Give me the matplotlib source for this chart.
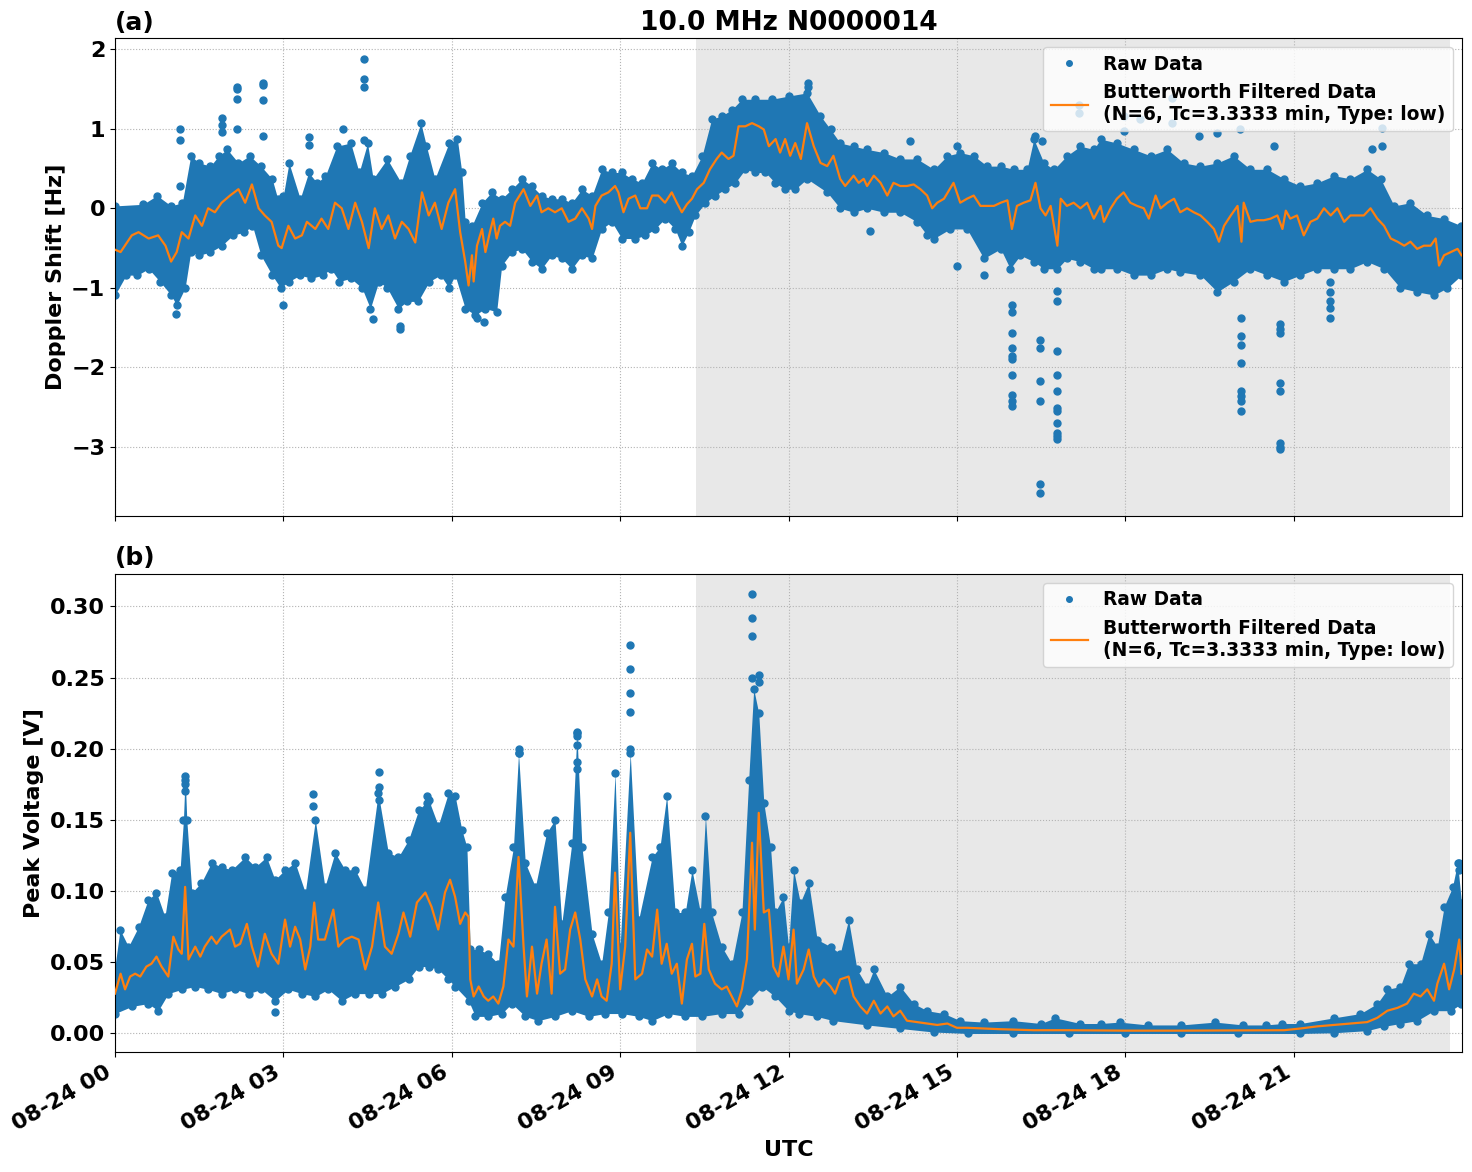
import numpy as np
import pandas as pd
import matplotlib
matplotlib.use('Agg')
import matplotlib.pyplot as plt
import matplotlib.dates as mdates

plt.rcParams['font.weight'] = 'bold'
plt.rcParams['axes.labelweight'] = 'bold'
plt.rcParams['axes.titleweight'] = 'bold'

DAY = pd.Timestamp('2024-08-24')

# ---------------- panel (a): doppler shift [Hz] ----------------
# filtered curve (hour of day, value)
dop_filt_h = [0.0, 0.1, 0.3, 0.42, 0.6, 0.77, 0.9, 1.0, 1.1, 1.19, 1.31, 1.43, 1.55, 1.66, 1.78, 1.9, 2.05, 2.2, 2.32, 2.44,
              2.56, 2.67, 2.79, 2.91, 2.97, 3.09, 3.21, 3.33, 3.42, 3.57, 3.68, 3.8, 3.92, 4.04, 4.16, 4.28, 4.4, 4.52, 4.63, 4.75,
              4.87, 4.99, 5.11, 5.23, 5.35, 5.47, 5.59, 5.7, 5.82, 5.94, 6.06, 6.15, 6.24, 6.3, 6.36, 6.39, 6.45, 6.54, 6.6, 6.68,
              6.74, 6.8, 6.86, 6.95, 7.04, 7.13, 7.28, 7.4, 7.52, 7.6, 7.72, 7.84, 7.96, 8.08, 8.2, 8.32, 8.44, 8.5, 8.56, 8.67,
              8.79, 8.91, 8.97, 9.06, 9.15, 9.27, 9.36, 9.48, 9.57, 9.68, 9.8, 9.92, 10.01, 10.1, 10.19, 10.28, 10.37, 10.49, 10.6, 10.72,
              10.81, 10.93, 11.02, 11.11, 11.23, 11.35, 11.47, 11.56, 11.65, 11.77, 11.85, 11.94, 12.03, 12.12, 12.22, 12.33, 12.45, 12.57, 12.69, 12.8,
              12.92, 13.01, 13.16, 13.25, 13.34, 13.4, 13.52, 13.64, 13.76, 13.87, 13.99, 14.11, 14.23, 14.35, 14.47, 14.56, 14.65, 14.77, 14.94, 15.06,
              15.18, 15.3, 15.42, 15.54, 15.66, 15.78, 15.9, 15.98, 16.07, 16.19, 16.31, 16.4, 16.49, 16.58, 16.67, 16.79, 16.85, 16.96, 17.08, 17.2,
              17.32, 17.44, 17.56, 17.62, 17.74, 17.85, 17.97, 18.09, 18.21, 18.33, 18.42, 18.54, 18.63, 18.75, 18.87, 18.98, 19.1, 19.22, 19.34, 19.46,
              19.58, 19.67, 19.76, 19.88, 20.0, 20.07, 20.11, 20.23, 20.35, 20.47, 20.59, 20.71, 20.8, 20.86, 20.94, 21.06, 21.18, 21.3, 21.42, 21.54,
              21.66, 21.78, 21.9, 22.01, 22.13, 22.25, 22.37, 22.49, 22.61, 22.73, 22.85, 22.97, 23.08, 23.2, 23.32, 23.44, 23.53, 23.59, 23.68, 23.8,
              23.92, 23.99]
dop_filt = [-0.52, -0.55, -0.34, -0.30, -0.38, -0.34, -0.47, -0.67, -0.55, -0.30, -0.38, -0.09, -0.22, 0.0, -0.05, 0.07, 0.16, 0.24, 0.07, 0.30,
            0.0, -0.09, -0.17, -0.47, -0.50, -0.22, -0.38, -0.34, -0.17, -0.26, -0.13, -0.26, 0.07, 0.0, -0.26, 0.07, -0.17, -0.50, 0.0, -0.26,
            -0.09, -0.38, -0.17, -0.26, -0.43, 0.20, -0.09, 0.07, -0.26, 0.07, 0.24, -0.30, -0.67, -0.97, -0.59, -0.92, -0.47, -0.26, -0.55, -0.30,
            -0.13, -0.38, -0.22, -0.17, -0.22, 0.07, 0.24, 0.03, 0.16, -0.05, 0.0, -0.05, 0.0, -0.17, -0.13, 0.0, -0.13, -0.26, 0.03, 0.16,
            0.20, 0.28, 0.20, -0.05, 0.12, 0.16, 0.0, 0.0, 0.16, 0.16, 0.07, 0.20, 0.07, -0.05, 0.05, 0.12, 0.24, 0.32, 0.49, 0.62,
            0.70, 0.62, 0.66, 1.03, 1.03, 1.07, 1.03, 0.99, 0.78, 0.87, 0.70, 0.87, 0.66, 0.82, 0.62, 1.07, 0.78, 0.57, 0.53, 0.66,
            0.37, 0.28, 0.41, 0.32, 0.37, 0.28, 0.41, 0.32, 0.16, 0.32, 0.28, 0.28, 0.30, 0.24, 0.16, 0.0, 0.07, 0.12, 0.32, 0.07,
            0.12, 0.16, 0.03, 0.03, 0.03, 0.07, 0.10, -0.26, 0.03, 0.07, 0.10, 0.32, 0.0, -0.09, 0.03, -0.47, 0.12, 0.03, 0.07, 0.0,
            0.07, -0.13, 0.03, -0.17, 0.0, 0.12, 0.20, 0.07, 0.03, 0.0, -0.13, 0.16, 0.0, 0.07, 0.12, -0.05, 0.0, -0.05, -0.09, -0.17,
            -0.26, -0.42, -0.22, -0.09, 0.03, -0.42, 0.07, -0.17, -0.15, -0.15, -0.13, -0.09, -0.26, -0.03, -0.13, -0.09, -0.34, -0.17, -0.13, 0.0,
            -0.09, 0.0, -0.17, -0.09, -0.09, -0.09, 0.0, -0.13, -0.22, -0.38, -0.42, -0.47, -0.42, -0.51, -0.47, -0.47, -0.38, -0.72, -0.59, -0.55,
            -0.51, -0.59]

# dense cloud of raw points: upper and lower edge
dop_top_h = [0.0, 0.5, 0.75, 1.0, 1.2, 1.35, 1.5, 1.7, 1.85, 2.0, 2.2, 2.4, 2.6, 2.8, 2.9, 3.0, 3.1, 3.3, 3.45, 3.6,
             3.75, 3.95, 4.2, 4.35, 4.5, 4.6, 4.85, 5.1, 5.25, 5.45, 5.55, 5.7, 5.95, 6.1, 6.18, 6.24, 6.36, 6.54, 6.71, 6.89,
             7.07, 7.25, 7.43, 7.6, 7.78, 7.96, 8.14, 8.32, 8.5, 8.67, 8.85, 9.03, 9.21, 9.39, 9.57, 9.74, 9.92, 10.1, 10.28, 10.46,
             10.63, 10.81, 10.99, 11.17, 11.41, 11.7, 12.0, 12.33, 12.57, 12.75, 12.92, 13.16, 13.4, 13.7, 13.99, 14.29, 14.59, 14.83, 15.06, 15.3,
             15.54, 15.78, 16.01, 16.25, 16.37, 16.55, 16.73, 16.96, 17.2, 17.44, 17.56, 17.85, 18.15, 18.45, 18.75, 19.04, 19.34, 19.64, 19.93, 20.23,
             20.53, 20.83, 21.12, 21.42, 21.72, 22.01, 22.31, 22.55, 22.79, 23.08, 23.38, 23.68, 23.99]
dop_top = [0.03, 0.05, 0.16, 0.03, 0.07, 0.66, 0.57, 0.53, 0.66, 0.74, 0.57, 0.66, 0.53, 0.37, 0.12, 0.16, 0.57, 0.12, 0.45, 0.32,
           0.41, 0.78, 0.82, 0.45, 0.82, 0.37, 0.62, 0.32, 0.66, 1.07, 0.78, 0.37, 0.82, 0.87, 0.45, -0.17, -0.22, 0.07, 0.20, 0.12,
           0.24, 0.37, 0.28, 0.16, 0.12, 0.12, 0.07, 0.24, 0.16, 0.49, 0.45, 0.45, 0.37, 0.32, 0.57, 0.49, 0.57, 0.45, 0.41, 0.66,
           1.12, 1.16, 1.24, 1.37, 1.37, 1.37, 1.41, 1.45, 1.16, 0.99, 0.82, 0.78, 0.74, 0.70, 0.62, 0.62, 0.49, 0.66, 0.70, 0.66,
           0.53, 0.53, 0.49, 0.49, 0.87, 0.57, 0.49, 0.66, 0.78, 0.74, 0.87, 0.82, 0.74, 0.66, 0.74, 0.57, 0.53, 0.57, 0.66, 0.49,
           0.49, 0.37, 0.28, 0.32, 0.41, 0.37, 0.49, 0.37, 0.03, 0.07, -0.09, -0.13, -0.22]
dop_bot_h = [0.0, 0.2, 0.4, 0.6, 0.8, 1.0, 1.1, 1.25, 1.35, 1.5, 1.7, 1.9, 2.1, 2.3, 2.45, 2.6, 2.8, 2.95, 3.1, 3.3,
             3.5, 3.7, 3.85, 4.0, 4.2, 4.4, 4.55, 4.7, 4.85, 5.05, 5.2, 5.4, 5.6, 5.8, 5.95, 6.06, 6.24, 6.42, 6.6, 6.8,
             6.89, 7.07, 7.25, 7.43, 7.6, 7.78, 7.96, 8.14, 8.32, 8.5, 8.67, 8.85, 9.03, 9.27, 9.45, 9.62, 9.8, 9.98, 10.1, 10.22,
             10.34, 10.52, 10.69, 10.87, 11.05, 11.23, 11.41, 11.59, 11.76, 11.94, 12.12, 12.33, 12.69, 12.92, 13.16, 13.4, 13.7, 13.99, 14.29, 14.47,
             14.59, 14.88, 15.18, 15.48, 15.78, 15.95, 16.13, 16.37, 16.55, 16.79, 16.96, 17.2, 17.44, 17.56, 17.85, 18.15, 18.45, 18.75, 18.98, 19.34,
             19.64, 19.93, 20.23, 20.53, 20.83, 21.12, 21.42, 21.72, 22.01, 22.31, 22.61, 22.9, 23.2, 23.5, 23.74, 23.99]
dop_bot = [-1.09, -0.84, -0.84, -0.76, -0.92, -1.09, -1.22, -1.0, -0.55, -0.59, -0.55, -0.47, -0.34, -0.30, -0.22, -0.59, -0.84, -1.0, -0.92, -0.84,
           -0.88, -0.84, -0.76, -0.92, -0.88, -1.0, -1.26, -0.92, -1.0, -1.26, -1.17, -1.17, -0.92, -0.84, -1.0, -0.84, -1.26, -1.34, -1.26, -1.30,
           -0.72, -0.55, -0.51, -0.67, -0.76, -0.59, -0.63, -0.76, -0.59, -0.63, -0.26, -0.17, -0.38, -0.38, -0.34, -0.26, -0.13, -0.26, -0.47, -0.30,
           -0.09, 0.07, 0.16, 0.24, 0.32, 0.49, 0.45, 0.45, 0.32, 0.24, 0.24, 0.37, 0.20, 0.0, -0.05, 0.0, -0.05, -0.05, -0.17, -0.34,
           -0.38, -0.26, -0.26, -0.63, -0.51, -0.76, -0.59, -0.67, -0.76, -0.76, -0.63, -0.67, -0.76, -0.76, -0.76, -0.84, -0.84, -0.76, -0.80, -0.84,
           -1.05, -0.92, -0.76, -0.84, -0.92, -0.84, -0.76, -0.76, -0.76, -0.67, -0.76, -1.0, -1.05, -1.09, -1.0, -0.84]

# isolated raw points away from the main cloud
dop_out_h = [1.16, 1.16, 1.16, 1.09, 1.9, 1.9, 1.9, 2.17, 2.17, 2.17, 2.17, 2.64, 2.64, 2.64, 2.64, 2.99, 3.46, 3.46, 4.07, 4.44,
             4.44, 4.44, 4.44, 4.6, 5.08, 5.08, 6.45, 6.58, 12.35, 12.35, 13.46, 14.17, 15.0, 15.0, 15.48,
             15.98, 15.98, 15.98, 15.98, 15.98, 15.98, 15.98, 15.98, 15.98, 15.98,
             16.48, 16.48, 16.48, 16.48, 16.48, 16.48,
             16.79, 16.79, 16.79, 16.79, 16.79, 16.79, 16.79, 16.79, 16.79, 16.79, 16.79,
             16.4, 16.52, 17.17, 17.17, 17.97, 17.97, 18.27, 18.84, 18.84, 19.31, 19.64, 20.05, 20.65, 22.4, 22.58, 22.58,
             20.07, 20.07, 20.07, 20.07, 20.07, 20.07, 20.07, 20.07,
             20.75, 20.75, 20.75, 20.75, 20.75, 20.75, 20.75, 20.75,
             21.65, 21.65, 21.65, 21.65, 21.65]
dop_out = [1.0, 0.86, 0.28, -1.33, 1.14, 1.05, 0.96, 1.53, 1.50, 1.37, 0.99, 1.57, 1.55, 1.36, 0.91, -1.22, 0.89, 0.80, 1.0, 1.87,
           1.63, 1.53, 0.86, -1.39, -1.52, -1.48, -1.38, -1.43, 1.57, 1.53, -0.28, 0.85, -0.72, 0.78, -0.84,
           -1.22, -1.30, -1.57, -1.76, -1.85, -1.90, -2.09, -2.34, -2.42, -2.49,
           -1.66, -1.76, -2.17, -2.42, -3.47, -3.58,
           -1.04, -1.17, -1.79, -2.09, -2.29, -2.51, -2.55, -2.70, -2.82, -2.86, -2.90,
           0.91, 0.85, 1.30, 1.20, 0.97, 1.16, 1.12, 1.39, 1.07, 0.91, 0.95, 0.99, 0.78, 0.74, 1.01, 0.78,
           -1.38, -1.60, -1.72, -1.94, -2.30, -2.36, -2.42, -2.55,
           -1.45, -1.52, -1.57, -2.19, -2.30, -2.95, -3.00, -3.03,
           -0.92, -1.05, -1.17, -1.25, -1.38]

# ---------------- panel (b): peak voltage [V] ----------------
volt_filt_h = [0.0, 0.1, 0.18, 0.27, 0.36, 0.45, 0.56, 0.65, 0.74, 0.83, 0.95, 1.04, 1.13, 1.19, 1.25, 1.31, 1.43, 1.52, 1.6, 1.72,
               1.81, 1.9, 2.05, 2.14, 2.23, 2.35, 2.44, 2.55, 2.67, 2.79, 2.91, 3.03, 3.12, 3.21, 3.3, 3.39, 3.48, 3.55, 3.62, 3.74,
               3.89, 3.98, 4.1, 4.22, 4.34, 4.46, 4.58, 4.69, 4.81, 4.93, 5.05, 5.14, 5.26, 5.38, 5.53, 5.64, 5.76, 5.88, 5.97, 6.06,
               6.15, 6.24, 6.3, 6.33, 6.39, 6.48, 6.57, 6.65, 6.74, 6.83, 6.92, 7.01, 7.1, 7.19, 7.28, 7.34, 7.43, 7.52, 7.6, 7.69,
               7.78, 7.84, 7.93, 8.02, 8.11, 8.2, 8.29, 8.38, 8.5, 8.59, 8.67, 8.76, 8.85, 8.91, 9.0, 9.09, 9.18, 9.27, 9.39, 9.48,
               9.57, 9.66, 9.74, 9.83, 9.92, 10.01, 10.1, 10.19, 10.28, 10.34, 10.43, 10.5, 10.58, 10.69, 10.81, 10.9, 10.99, 11.08, 11.17, 11.26,
               11.35, 11.4, 11.47, 11.56, 11.65, 11.73, 11.82, 11.91, 12.0, 12.09, 12.15, 12.27, 12.36, 12.45, 12.54, 12.63, 12.75, 12.83, 12.92, 13.07,
               13.16, 13.28, 13.4, 13.52, 13.64, 13.76, 13.87, 13.99, 14.11, 14.29, 14.47, 14.65, 14.83, 15.0, 15.18, 15.48, 15.78, 16.37, 17.0, 18.0,
               19.0, 20.0, 20.83, 21.12, 21.42, 21.72, 22.01, 22.31, 22.49, 22.67, 22.85, 23.02, 23.14, 23.26, 23.38, 23.5, 23.56, 23.68, 23.77, 23.86,
               23.95, 23.99]
volt_filt = [0.028, 0.042, 0.031, 0.040, 0.042, 0.040, 0.047, 0.049, 0.054, 0.047, 0.040, 0.068, 0.059, 0.056, 0.103, 0.052, 0.061, 0.054, 0.061, 0.068,
             0.063, 0.068, 0.073, 0.061, 0.063, 0.077, 0.061, 0.047, 0.070, 0.056, 0.049, 0.080, 0.061, 0.075, 0.066, 0.045, 0.061, 0.092, 0.066, 0.066,
             0.087, 0.061, 0.066, 0.068, 0.066, 0.045, 0.061, 0.092, 0.061, 0.056, 0.070, 0.085, 0.068, 0.092, 0.099, 0.089, 0.073, 0.099, 0.108, 0.096,
             0.077, 0.085, 0.082, 0.038, 0.026, 0.033, 0.026, 0.023, 0.026, 0.021, 0.033, 0.066, 0.061, 0.124, 0.061, 0.026, 0.061, 0.028, 0.049, 0.066,
             0.028, 0.089, 0.042, 0.045, 0.073, 0.085, 0.066, 0.038, 0.026, 0.038, 0.026, 0.023, 0.049, 0.113, 0.031, 0.061, 0.141, 0.038, 0.042, 0.059,
             0.054, 0.087, 0.049, 0.063, 0.042, 0.049, 0.021, 0.052, 0.063, 0.040, 0.042, 0.077, 0.045, 0.035, 0.031, 0.033, 0.026, 0.019, 0.031, 0.052,
             0.134, 0.073, 0.155, 0.085, 0.087, 0.047, 0.040, 0.061, 0.038, 0.073, 0.035, 0.045, 0.059, 0.040, 0.033, 0.038, 0.033, 0.028, 0.038, 0.040,
             0.026, 0.019, 0.014, 0.023, 0.014, 0.019, 0.012, 0.016, 0.009, 0.008, 0.007, 0.006, 0.007, 0.004, 0.004, 0.0035, 0.003, 0.0023, 0.0023, 0.002,
             0.002, 0.0022, 0.0023, 0.0035, 0.005, 0.006, 0.007, 0.008, 0.011, 0.016, 0.018, 0.021, 0.028, 0.026, 0.031, 0.023, 0.035, 0.049, 0.031, 0.045,
             0.066, 0.042]

volt_top_h = [0.0, 0.09, 0.24, 0.42, 0.59, 0.74, 0.89, 1.01, 1.16, 1.22, 1.25, 1.28, 1.37, 1.54, 1.72, 1.9, 2.08, 2.32, 2.5, 2.7,
              2.85, 3.03, 3.21, 3.39, 3.57, 3.74, 3.92, 4.1, 4.28, 4.46, 4.69, 4.87, 5.05, 5.23, 5.41, 5.59, 5.76, 5.94, 6.06, 6.18,
              6.27, 6.33, 6.48, 6.65, 6.83, 6.95, 7.1, 7.19, 7.31, 7.49, 7.69, 7.84, 7.96, 8.14, 8.23, 8.32, 8.5, 8.67, 8.79, 8.91,
              9.0, 9.18, 9.33, 9.57, 9.71, 9.83, 9.98, 10.16, 10.28, 10.43, 10.52, 10.63, 10.81, 10.99, 11.17, 11.29, 11.38, 11.47, 11.56, 11.68,
              11.76, 11.91, 12.0, 12.09, 12.21, 12.36, 12.51, 12.75, 12.92, 13.07, 13.22, 13.4, 13.52, 13.76, 13.99, 14.23, 14.47, 14.77, 15.06, 15.48,
              16.0, 16.5, 16.75, 17.2, 17.56, 17.9, 18.4, 19.0, 19.6, 20.1, 20.5, 20.8, 21.12, 21.72, 22.19, 22.49, 22.67, 22.9, 23.05, 23.26,
              23.41, 23.56, 23.68, 23.83, 23.92, 23.99]
volt_top = [0.047, 0.073, 0.061, 0.075, 0.094, 0.099, 0.082, 0.113, 0.115, 0.150, 0.181, 0.150, 0.099, 0.106, 0.120, 0.117, 0.115, 0.124, 0.117, 0.124,
            0.108, 0.115, 0.120, 0.099, 0.150, 0.103, 0.127, 0.115, 0.115, 0.101, 0.169, 0.127, 0.124, 0.136, 0.157, 0.164, 0.146, 0.169, 0.167, 0.143,
            0.131, 0.059, 0.059, 0.056, 0.049, 0.096, 0.131, 0.197, 0.120, 0.103, 0.141, 0.150, 0.077, 0.134, 0.211, 0.131, 0.070, 0.049, 0.085, 0.183,
            0.061, 0.197, 0.080, 0.124, 0.131, 0.167, 0.085, 0.085, 0.115, 0.085, 0.153, 0.085, 0.061, 0.049, 0.085, 0.178, 0.242, 0.225, 0.162, 0.131,
            0.085, 0.096, 0.061, 0.115, 0.092, 0.106, 0.066, 0.061, 0.056, 0.080, 0.045, 0.033, 0.045, 0.026, 0.033, 0.021, 0.016, 0.014, 0.009, 0.008,
            0.009, 0.007, 0.011, 0.007, 0.007, 0.008, 0.006, 0.006, 0.008, 0.006, 0.006, 0.007, 0.007, 0.011, 0.014, 0.021, 0.031, 0.033, 0.049, 0.049,
            0.070, 0.061, 0.089, 0.103, 0.120, 0.092]
volt_bot_h = [0.0, 0.3, 0.59, 0.77, 0.95, 1.19, 1.43, 1.66, 1.9, 2.14, 2.38, 2.61, 2.85, 3.09, 3.33, 3.57, 3.8, 4.04, 4.28, 4.52,
              4.75, 4.99, 5.23, 5.41, 5.59, 5.76, 5.94, 6.06, 6.3, 6.42, 6.65, 6.89, 7.07, 7.31, 7.54, 7.84, 8.14, 8.44, 8.73, 9.03,
              9.33, 9.57, 9.86, 10.16, 10.46, 10.81, 11.11, 11.29, 11.53, 11.76, 12.0, 12.18, 12.5, 12.8, 13.4, 13.99, 14.59, 15.2, 16.0, 17.0,
              18.0, 19.0, 20.0, 21.12, 21.72, 22.31, 22.61, 22.9, 23.2, 23.5, 23.8, 23.99]
volt_bot = [0.014, 0.019, 0.021, 0.016, 0.028, 0.031, 0.033, 0.031, 0.028, 0.031, 0.028, 0.031, 0.023, 0.031, 0.028, 0.026, 0.031, 0.023, 0.028, 0.028,
            0.028, 0.033, 0.038, 0.047, 0.047, 0.045, 0.038, 0.033, 0.023, 0.012, 0.012, 0.014, 0.021, 0.012, 0.009, 0.012, 0.016, 0.012, 0.014, 0.014,
            0.012, 0.009, 0.014, 0.012, 0.012, 0.014, 0.014, 0.023, 0.033, 0.026, 0.016, 0.014, 0.012, 0.009, 0.006, 0.0035, 0.001, 0.0, 0.0, 0.0,
            0.0, 0.0, 0.0, 0.0, 0.0005, 0.002, 0.005, 0.007, 0.009, 0.016, 0.016, 0.021]

volt_out_h = [1.25, 1.25, 1.25, 3.53, 3.53, 4.70, 4.70, 4.70, 5.56, 5.56, 7.19, 7.19, 8.23, 8.23, 8.23, 8.23, 8.23,
              9.18, 9.18, 9.18, 9.18, 9.18, 11.35, 11.35, 11.35, 11.35, 11.47, 11.47, 2.85, 23.95, 23.95]
volt_out = [0.178, 0.175, 0.170, 0.168, 0.160, 0.184, 0.173, 0.164, 0.167, 0.162, 0.200, 0.197, 0.212, 0.209, 0.203, 0.191, 0.186,
            0.273, 0.256, 0.239, 0.226, 0.200, 0.309, 0.292, 0.279, 0.250, 0.252, 0.247, 0.015, 0.120, 0.115]

# shaded interval (hours)
shade_start = 10.36
shade_end = 23.78


def to_time(hours):
    return DAY + pd.to_timedelta(np.asarray(hours, dtype=float), unit='h')


fig, (ax1, ax2) = plt.subplots(2, 1, figsize=(14.72, 11.72), dpi=100, sharex=True)
fig.subplots_adjust(left=0.0781, right=0.9932, top=0.9676, bottom=0.1024, hspace=0.12)

panels = [
    (ax1, dop_filt_h, dop_filt, dop_top_h, dop_top, dop_bot_h, dop_bot, dop_out_h, dop_out, 'Doppler Shift [Hz]', (-3.87, 2.14)),
    (ax2, volt_filt_h, volt_filt, volt_top_h, volt_top, volt_bot_h, volt_bot, volt_out_h, volt_out, 'Peak Voltage [V]', (-0.013, 0.323)),
]

for ax, fh, fv, th, tv, bh, bv, oh, ov, ylab, ylim in panels:
    ax.axvspan(to_time(shade_start), to_time(shade_end), color='gray', alpha=0.18, zorder=0, lw=0)

    # dense raw cloud: fill between the traced upper and lower edges on a common time base
    grid_h = np.union1d(th, bh)
    top_i = np.interp(grid_h, th, tv)
    bot_i = np.interp(grid_h, bh, bv)
    ax.fill_between(to_time(grid_h), bot_i, top_i, color='C0', lw=0, zorder=2)
    ax.plot(to_time(th), tv, 'o', color='C0', ms=5, zorder=2)
    ax.plot(to_time(bh), bv, 'o', color='C0', ms=5, zorder=2)
    ax.plot(to_time(oh), ov, 'o', color='C0', ms=5, ls='none', zorder=2, label='Raw Data')

    ax.plot(to_time(fh), fv, color='C1', lw=1.6, zorder=3,
            label='Butterworth Filtered Data\n(N=6, Tc=3.3333 min, Type: low)')

    ax.set_ylabel(ylab, fontsize=16)
    ax.set_ylim(*ylim)
    ax.grid(True, linestyle=':', color='0.7')
    ax.tick_params(labelsize=16)
    ax.legend(loc='upper right', fontsize=13.4, markerscale=0.8)

ax1.set_title('10.0 MHz N0000014', fontsize=19)
ax1.set_title('(a)', loc='left', fontsize=18)
ax2.set_title('(b)', loc='left', fontsize=18)

ax2.set_xlim(to_time(0.0), to_time(23.999))
ax2.xaxis.set_major_locator(mdates.HourLocator(byhour=range(0, 24, 3)))
ax2.xaxis.set_major_formatter(mdates.DateFormatter('%m-%d %H'))
plt.setp(ax2.get_xticklabels(), rotation=30, ha='right')
ax2.set_xlabel('UTC', fontsize=16)

fig.savefig('out.png', dpi=100)
